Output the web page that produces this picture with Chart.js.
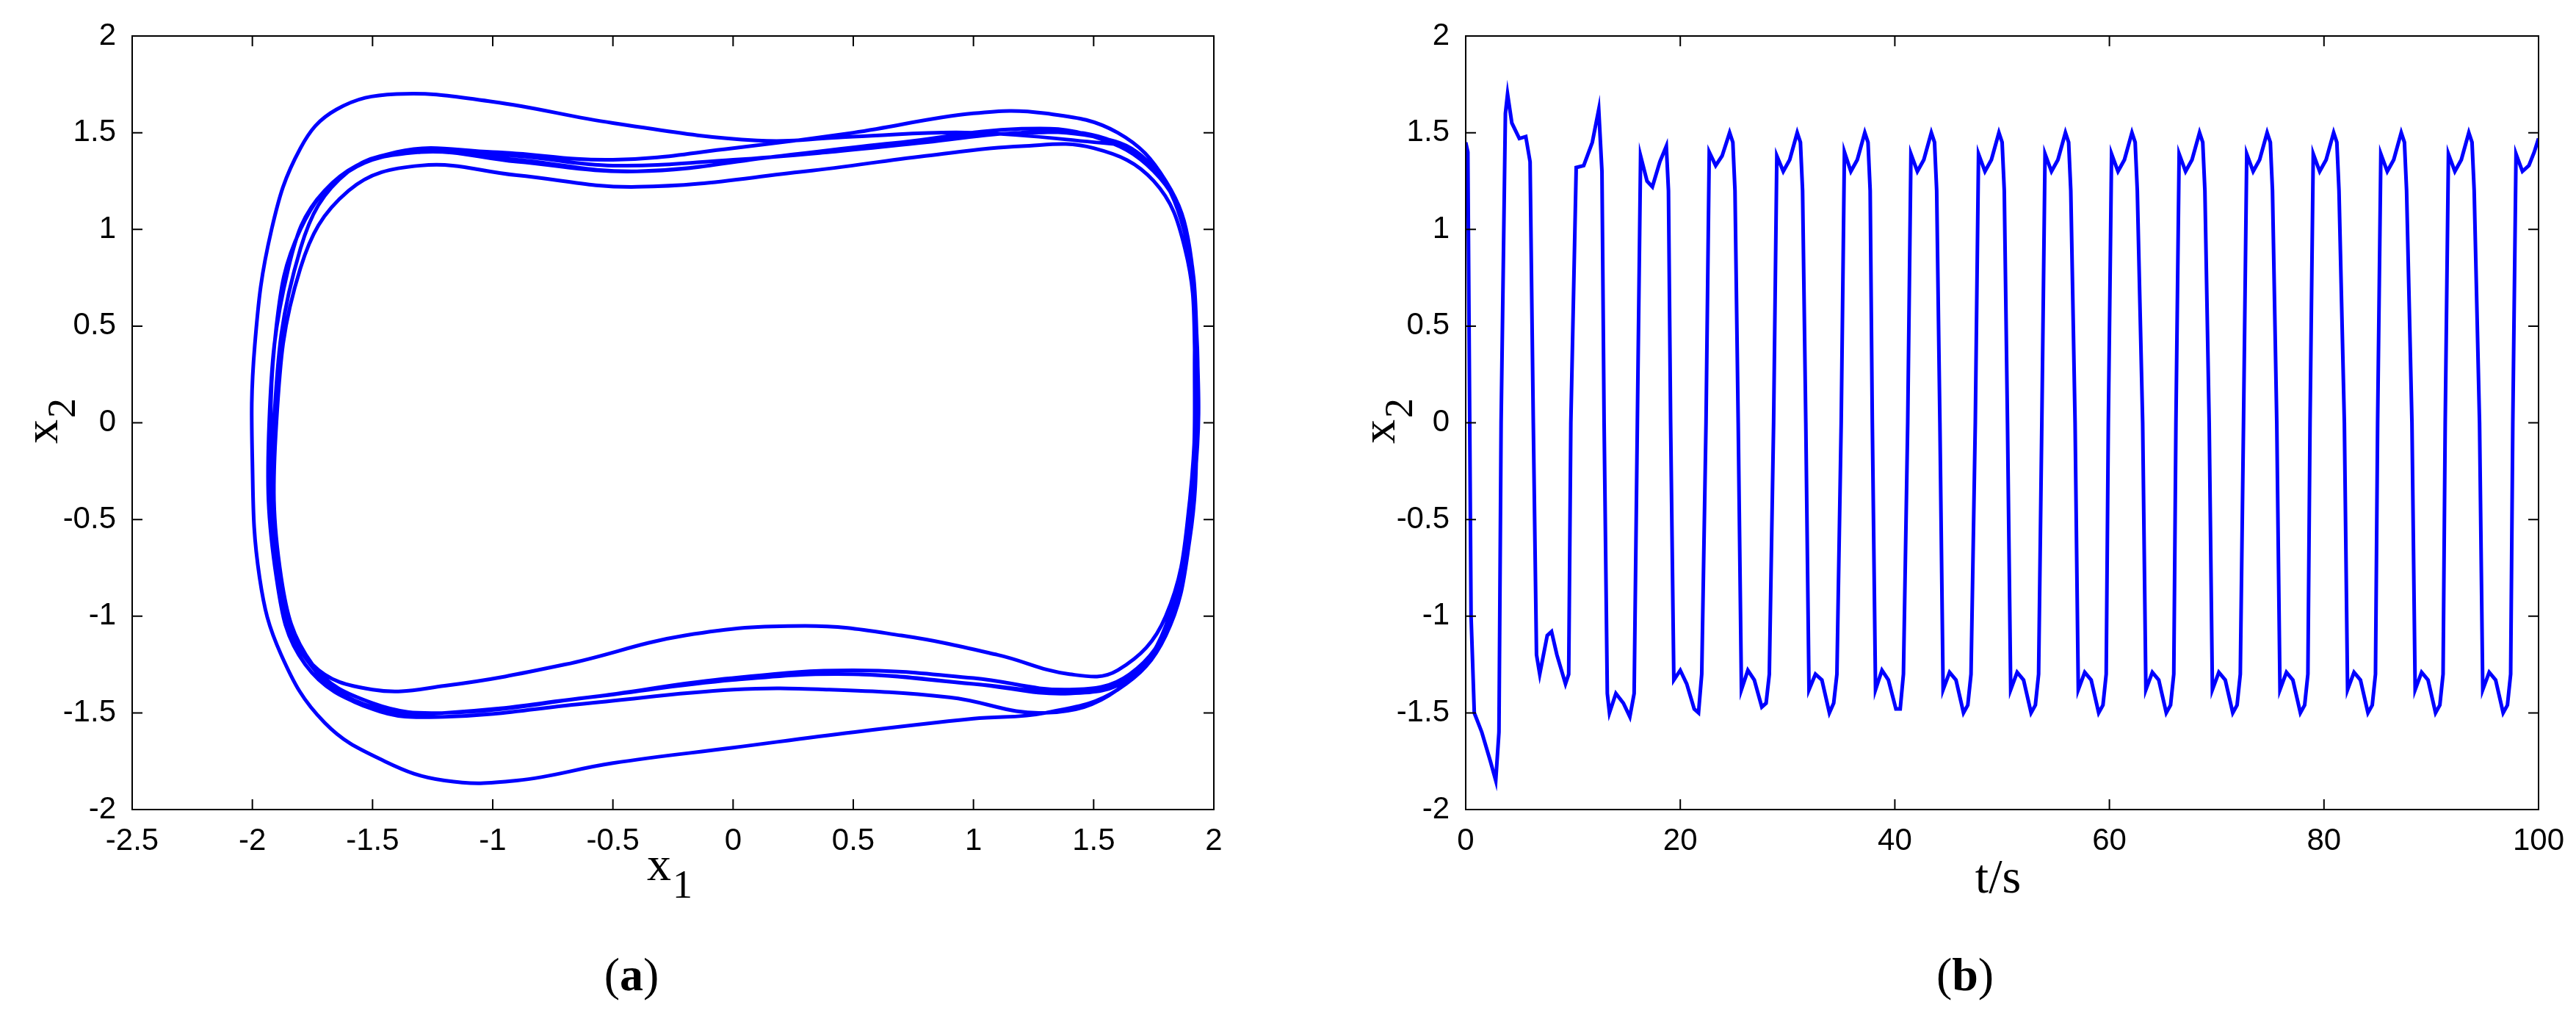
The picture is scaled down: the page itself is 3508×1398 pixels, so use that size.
<!DOCTYPE html>
<html>
<head>
<meta charset="utf-8">
<script src="https://cdn.jsdelivr.net/npm/chart.js@4.4.0/dist/chart.umd.min.js"></script>
<style>
  body { margin: 0; background: #fff; }
  #wrap { position: relative; width: 3508px; height: 1398px; }
  .panel { position: absolute; top: 0; width: 1754px; height: 1240px; }
  .tag { position: absolute; top: 1290px; font: 64px "Liberation Serif", serif; transform: translateX(-50%); }
  .tag b { font-weight: bold; }
</style>
</head>
<body>
<div id="wrap">
  <div class="panel" style="left:0"><canvas id="phase"></canvas></div>
  <div class="panel" style="left:1754px"><canvas id="series"></canvas></div>
  <div class="tag" style="left:860px">(<b>a</b>)</div>
  <div class="tag" style="left:2676px">(<b>b</b>)</div>
</div>
<script>
// phase portrait, x1 / x2
const phaseX1 = [1.6, 1.0, 0.5, 0.1, -0.5, -1.0, -1.4, -1.65, -1.8, -1.92, -1.99, -2.0, -1.97, -1.88, -1.7, -1.45, -1.2, -0.9, -0.5, 0, 0.5, 1.0, 1.3, 1.6, 1.8, 1.9, 1.93,
  1.92, 1.85, 1.7, 1.5, 1.2, 0.8, 0.4, 0, -0.5, -0.9, -1.3, -1.6, -1.8, -1.9, -1.92, -1.88, -1.75, -1.5, -1.2, -0.7, -0.2, 0.3, 0.7, 1.1, 1.4, 1.6, 1.8, 1.9,
  1.92, 1.9, 1.8, 1.6, 1.3, 1.0, 0.5, 0, -0.5, -1.0, -1.4, -1.7, -1.85, -1.93, -1.9, -1.78, -1.5, -1.2, -0.6, 0, 0.4, 0.9, 1.3, 1.6, 1.8, 1.9,
  1.92, 1.88, 1.75, 1.5, 1.2, 0.8, 0.3, -0.4, -0.9, -1.3, -1.6, -1.8, -1.9, -1.88, -1.75, -1.5, -1.2, -0.6, 0, 0.5, 1.0, 1.4, 1.65, 1.82, 1.92,
  1.93, 1.88, 1.75, 1.5, 1.2, 0.7, 0.2, -0.4, -0.9, -1.3, -1.6, -1.8, -1.91, -1.88, -1.74, -1.5, -1.2, -0.6, 0, 0.5, 1.0, 1.4, 1.65, 1.83, 1.92,
  1.93, 1.89, 1.77, 1.55, 1.25, 0.7, 0.2, -0.4, -0.9, -1.3, -1.6, -1.8, -1.91, -1.88, -1.74, -1.5, -1.2, -0.6, 0, 0.5, 1.0, 1.4, 1.65, 1.83, 1.92, 1.93];
const phaseX2 = [1.44, 1.5, 1.48, 1.46, 1.55, 1.66, 1.7, 1.62, 1.42, 1.0, 0.4, -0.2, -0.8, -1.2, -1.55, -1.75, -1.85, -1.85, -1.76, -1.68, -1.6, -1.53, -1.5, -1.38, -1.1, -0.6, 0,
  0.6, 1.1, 1.38, 1.48, 1.5, 1.45, 1.4, 1.36, 1.33, 1.38, 1.4, 1.3, 1.0, 0.5, -0.3, -0.9, -1.25, -1.38, -1.36, -1.25, -1.1, -1.05, -1.1, -1.2, -1.3, -1.28, -1.0, -0.4,
  0.3, 0.9, 1.25, 1.5, 1.6, 1.6, 1.5, 1.42, 1.36, 1.4, 1.4, 1.2, 0.8, 0, -0.8, -1.25, -1.48, -1.52, -1.45, -1.38, -1.38, -1.42, -1.5, -1.38, -1.05, -0.4,
  0.4, 0.9, 1.25, 1.42, 1.43, 1.38, 1.3, 1.22, 1.28, 1.33, 1.2, 0.8, 0, -0.8, -1.25, -1.45, -1.5, -1.42, -1.32, -1.28, -1.32, -1.38, -1.3, -1.0, -0.3,
  0.4, 1.0, 1.3, 1.48, 1.52, 1.45, 1.38, 1.3, 1.35, 1.4, 1.3, 0.9, 0, -0.9, -1.28, -1.48, -1.5, -1.42, -1.33, -1.3, -1.35, -1.4, -1.32, -1.0, -0.3,
  0.3, 0.95, 1.28, 1.47, 1.5, 1.45, 1.38, 1.3, 1.36, 1.4, 1.3, 0.9, 0, -0.9, -1.28, -1.47, -1.5, -1.42, -1.32, -1.3, -1.35, -1.39, -1.32, -1.0, -0.3, 0];

// time series, t / x2
const timeSec = [0, 0.2, 0.5, 0.8, 1.5, 2.3, 2.8, 3.1, 3.3, 3.7, 3.9, 4.3, 5.0, 5.6, 6.0, 6.3, 6.6, 6.9, 7.6, 8.0, 8.5, 9.3, 9.6,
  9.8, 10.3, 11.0, 11.8, 12.4, 12.7, 12.9, 13.2, 13.4, 14.0, 14.7, 15.3, 15.7,
  16.0, 16.3, 16.9, 17.4, 18.1, 18.7, 18.9, 19.1, 19.4, 20.0, 20.6, 21.3, 21.7, 22.0,
  22.4, 22.7, 23.3, 23.9, 24.6, 24.9, 25.1, 25.4, 25.7, 26.3, 26.9, 27.6, 28.0, 28.3,
  28.7, 29.0, 29.6, 30.2, 30.9, 31.2, 31.4, 31.7, 32.0, 32.6, 33.2, 33.9, 34.3, 34.6,
  35.0, 35.3, 35.9, 36.5, 37.2, 37.5, 37.7, 37.9, 38.2, 38.8, 39.4, 40.1, 40.5, 40.8,
  41.2, 41.5, 42.1, 42.7, 43.4, 43.7, 43.9, 44.2, 44.5, 45.1, 45.7, 46.4, 46.8, 47.1,
  47.5, 47.8, 48.4, 49.0, 49.7, 50.0, 50.2, 50.5, 50.8, 51.4, 52.0, 52.7, 53.1, 53.4,
  53.7, 54.0, 54.6, 55.2, 55.9, 56.2, 56.4, 56.8, 57.1, 57.7, 58.3, 59.0, 59.4, 59.7,
  59.9, 60.2, 60.8, 61.4, 62.1, 62.4, 62.6, 63.1, 63.4, 64.0, 64.6, 65.3, 65.7, 66.0,
  66.2, 66.5, 67.1, 67.7, 68.4, 68.7, 68.9, 69.3, 69.6, 70.2, 70.8, 71.5, 71.9, 72.2,
  72.5, 72.8, 73.4, 74.0, 74.7, 75.0, 75.2, 75.6, 75.9, 76.5, 77.1, 77.8, 78.2, 78.5,
  78.7, 79.0, 79.6, 80.2, 80.9, 81.2, 81.4, 81.9, 82.2, 82.8, 83.4, 84.1, 84.5, 84.8,
  85.0, 85.3, 85.9, 86.5, 87.2, 87.5, 87.7, 88.2, 88.5, 89.1, 89.7, 90.4, 90.8, 91.1,
  91.3, 91.6, 92.2, 92.8, 93.5, 93.8, 94.0, 94.5, 94.8, 95.4, 96.0, 96.7, 97.1, 97.4,
  97.6, 97.9, 98.5, 99.1, 99.6, 100];
const x2Series = [1.45, 1.4, -1.0, -1.5, -1.6, -1.75, -1.85, -1.6, 0, 1.6, 1.7, 1.55, 1.47, 1.48, 1.35, 0, -1.2, -1.3, -1.1, -1.08, -1.2, -1.35, -1.3,
  0, 1.32, 1.33, 1.45, 1.62, 1.3, 0, -1.4, -1.5, -1.4, -1.45, -1.52, -1.4,
  0, 1.38, 1.25, 1.22, 1.35, 1.43, 1.2, 0, -1.33, -1.28, -1.35, -1.48, -1.5, -1.3,
  0, 1.4, 1.33, 1.38, 1.5, 1.45, 1.2, 0, -1.38, -1.28, -1.33, -1.47, -1.45, -1.3,
  0, 1.38, 1.3, 1.36, 1.5, 1.45, 1.2, 0, -1.38, -1.3, -1.33, -1.5, -1.45, -1.3,
  0, 1.4, 1.3, 1.36, 1.5, 1.45, 1.2, 0, -1.38, -1.28, -1.33, -1.48, -1.48, -1.3,
  0, 1.39, 1.3, 1.36, 1.5, 1.45, 1.2, 0, -1.38, -1.29, -1.33, -1.5, -1.46, -1.3,
  0, 1.39, 1.3, 1.36, 1.5, 1.45, 1.2, 0, -1.38, -1.29, -1.33, -1.5, -1.46, -1.3,
  0, 1.39, 1.3, 1.36, 1.5, 1.45, 1.2, 0, -1.38, -1.29, -1.33, -1.5, -1.46, -1.3,
  0, 1.39, 1.3, 1.36, 1.5, 1.45, 1.2, 0, -1.38, -1.29, -1.33, -1.5, -1.46, -1.3,
  0, 1.39, 1.3, 1.36, 1.5, 1.45, 1.2, 0, -1.38, -1.29, -1.33, -1.5, -1.46, -1.3,
  0, 1.39, 1.3, 1.36, 1.5, 1.45, 1.2, 0, -1.38, -1.29, -1.33, -1.5, -1.46, -1.3,
  0, 1.39, 1.3, 1.36, 1.5, 1.45, 1.2, 0, -1.38, -1.29, -1.33, -1.5, -1.46, -1.3,
  0, 1.39, 1.3, 1.36, 1.5, 1.45, 1.2, 0, -1.38, -1.29, -1.33, -1.5, -1.46, -1.3,
  0, 1.39, 1.3, 1.36, 1.5, 1.45, 1.2, 0, -1.38, -1.29, -1.33, -1.5, -1.46, -1.3,
  0, 1.39, 1.3, 1.33, 1.4, 1.47];

const phaseXTicks = [-2.5, -2, -1.5, -1, -0.5, 0, 0.5, 1, 1.5, 2];
const x2Ticks = [-2, -1.5, -1, -0.5, 0, 0.5, 1, 1.5, 2];
const timeTicks = [0, 20, 40, 60, 80, 100];

const tickFont = { family: '"Liberation Sans", Arial, sans-serif', size: 42 };

// MATLAB style box with inward ticks plus sub-scripted axis titles
const boxPlugin = {
  id: 'box',
  afterDraw(chart, args, opts) {
    const { ctx, chartArea: a, scales } = chart;
    ctx.save();
    ctx.strokeStyle = '#000';
    ctx.lineWidth = 2;
    ctx.strokeRect(a.left, a.top, a.right - a.left, a.bottom - a.top);
    const len = 14;
    ctx.beginPath();
    opts.xTicks.forEach(v => {
      const px = scales.x.getPixelForValue(v);
      ctx.moveTo(px, a.bottom); ctx.lineTo(px, a.bottom - len);
      ctx.moveTo(px, a.top); ctx.lineTo(px, a.top + len);
    });
    opts.yTicks.forEach(v => {
      const py = scales.y.getPixelForValue(v);
      ctx.moveTo(a.left, py); ctx.lineTo(a.left + len, py);
      ctx.moveTo(a.right, py); ctx.lineTo(a.right - len, py);
    });
    ctx.stroke();
    ctx.fillStyle = '#000';
    const drawSub = (base, sub, x, y) => {
      ctx.font = '66px "Liberation Serif", serif';
      ctx.textBaseline = 'alphabetic';
      ctx.textAlign = 'left';
      const w = ctx.measureText(base).width;
      ctx.fillText(base, x, y);
      if (sub) {
        ctx.font = '54px "Liberation Serif", serif';
        ctx.fillText(sub, x + w + 2, y + 24);
      }
    };
    if (opts.xSub) drawSub(opts.xBase, opts.xSub, opts.xTitleX - 30, opts.xTitleY);
    else { ctx.font = '66px "Liberation Serif", serif'; ctx.textAlign = 'center'; ctx.fillText(opts.xBase, opts.xTitleX, opts.xTitleY); }
    ctx.translate(opts.yTitleX, 574 + 30);
    ctx.rotate(-Math.PI / 2);
    drawSub('x', '2', 0, 0);
    ctx.restore();
  }
};

function makeChart(id, points, xMin, xMax, xTicks, yAxisWidth, rightPad, tension, boxOpts) {
  new Chart(document.getElementById(id), {
    type: 'scatter',
    data: {
      datasets: [{
        data: points,
        showLine: true,
        borderColor: '#0000ff',
        borderWidth: 5,
        pointRadius: 0,
        tension: tension
      }]
    },
    options: {
      responsive: false,
      animation: false,
      devicePixelRatio: 1,
      layout: { padding: { top: 49, right: rightPad, left: 0, bottom: 0 } },
      plugins: { legend: { display: false }, tooltip: { enabled: false }, box: boxOpts },
      scales: {
        x: {
          type: 'linear', min: xMin, max: xMax,
          grid: { display: false }, border: { display: false },
          afterBuildTicks: s => { s.ticks = xTicks.map(v => ({ value: v })); },
          afterFit: s => { s.height = 138; },
          ticks: { font: tickFont, color: '#000', padding: 10, maxRotation: 0, callback: v => String(v) }
        },
        y: {
          type: 'linear', min: -2, max: 2,
          grid: { display: false }, border: { display: false },
          afterBuildTicks: s => { s.ticks = x2Ticks.map(v => ({ value: v })); },
          afterFit: s => { s.width = yAxisWidth; },
          ticks: { font: tickFont, color: '#000', padding: 14, callback: v => String(v) }
        }
      }
    },
    plugins: [boxPlugin]
  });
}

function sizeCanvas(id) {
  const c = document.getElementById(id);
  c.width = 1754; c.height = 1240;
  c.style.width = '1754px'; c.style.height = '1240px';
}
sizeCanvas('phase');
sizeCanvas('series');

makeChart('phase', phaseX1.map((v, i) => ({ x: v, y: phaseX2[i] })), -2.5, 2, phaseXTicks, 180, 101, 0.4,
  { xTicks: phaseXTicks, yTicks: x2Ticks, xBase: 'x', xSub: '1', xTitleX: 911, xTitleY: 1198, yTitleX: 78 });
makeChart('series', timeSec.map((v, i) => ({ x: v, y: x2Series[i] })), 0, 100, timeTicks, 242, 51, 0,
  { xTicks: timeTicks, yTicks: x2Ticks, xBase: 't/s', xSub: '', xTitleX: 967, xTitleY: 1215, yTitleX: 145 });
</script>
</body>
</html>
